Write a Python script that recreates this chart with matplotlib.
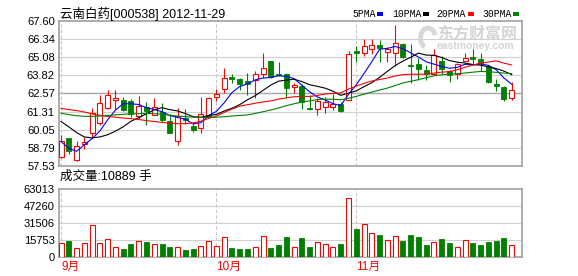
import numpy as np
import matplotlib.pyplot as plt
from matplotlib.patches import Rectangle, Arc

plt.rcParams['font.family'] = ['Liberation Sans', 'Noto Sans CJK SC', 'DejaVu Sans']

# daily candles, 2012-09-03 .. 2012-11-29
opens = [58.14, 59.48, 57.97, 59.04, 59.81, 60.51, 61.56, 62.09, 62.14, 62.02,
         60.97, 61.62, 61.09, 61.28, 60.65, 59.29, 60.88, 60.34, 60.18, 61.00,
         62.32, 62.90, 63.74, 63.55, 63.44, 63.48, 63.90, 64.79, 63.95, 63.95,
         63.02, 63.09, 61.58, 61.46, 61.63, 61.63, 61.84, 62.14, 65.55, 65.39,
         65.67, 65.90, 65.44, 65.35, 66.02, 64.55, 64.58, 64.23, 63.93, 64.84,
         64.12, 63.93, 64.81, 65.09, 64.93, 64.42, 63.25, 63.02, 62.25]
closes = [59.25, 58.60, 58.90, 59.20, 61.21, 61.90, 62.48, 62.26, 61.44, 61.16,
          61.67, 61.35, 61.65, 60.69, 59.83, 61.00, 60.69, 60.06, 61.11, 62.27,
          62.50, 63.67, 63.60, 63.20, 63.20, 63.90, 64.32, 63.74, 63.83, 62.97,
          63.16, 61.98, 61.46, 62.04, 61.95, 61.84, 61.37, 65.33, 65.39, 65.86,
          65.90, 65.72, 65.63, 66.04, 65.09, 64.47, 64.28, 63.95, 65.23, 64.30,
          63.83, 64.58, 65.05, 64.98, 64.65, 63.34, 63.07, 62.18, 62.79]
highs = [59.71, 59.50, 59.25, 59.53, 61.56, 62.48, 62.80, 62.83, 62.30, 62.20,
         62.37, 61.99, 62.25, 61.93, 61.11, 61.58, 61.51, 60.58, 62.34, 62.34,
         62.85, 64.37, 63.95, 63.67, 63.97, 64.14, 65.35, 64.79, 64.77, 64.02,
         63.32, 63.25, 62.44, 62.27, 62.30, 62.53, 62.00, 65.51, 65.86, 66.37,
         66.32, 66.25, 65.79, 67.30, 66.10, 65.97, 65.05, 64.53, 65.63, 65.16,
         64.23, 64.70, 65.35, 65.63, 65.35, 64.51, 63.58, 63.11, 63.39]
lows = [58.10, 58.37, 57.90, 58.74, 59.46, 60.40, 61.50, 61.44, 61.35, 60.96,
        60.80, 60.37, 61.05, 60.60, 59.80, 59.02, 60.46, 59.90, 59.83, 61.00,
        62.04, 62.60, 63.27, 62.83, 62.46, 62.27, 63.67, 63.67, 63.80, 62.27,
        62.62, 61.46, 61.40, 61.07, 61.21, 61.44, 61.25, 62.10, 64.74, 65.16,
        65.28, 64.74, 64.74, 64.46, 65.00, 63.30, 63.53, 63.53, 63.90, 63.93,
        63.37, 63.60, 64.80, 64.58, 64.12, 63.30, 62.72, 62.02, 62.14]
volumes = [12720, 14890, 8070, 12720, 29480, 12720, 16450, 9000, 7450, 12100,
           14580, 13960, 11790, 12100, 9310, 9000, 6520, 7450, 9930, 14580,
           9930, 18310, 8380, 7450, 7450, 9000, 19240, 8380, 11170, 18310,
           9000, 17690, 9310, 13650, 11790, 9000, 12100, 54610, 26070, 30410,
           22030, 20480, 15830, 19240, 14890, 20480, 18620, 11170, 13960, 16760,
           13030, 9000, 15830, 13030, 11480, 13960, 15200, 17690, 10889]

ma5_head = [59.23, 58.76, 58.55, 59.00]
ma10_head = [60.62, 60.25, 59.85, 59.55, 59.48, 59.55, 59.70, 59.95, 60.25]
ma20_head = [61.53, 61.45, 61.38, 61.28, 61.15, 61.05, 60.97, 60.92, 60.86, 60.82,
             60.76, 60.68, 60.62, 60.56, 60.50, 60.47, 60.47, 60.52, 60.64]
ma30_head = [61.20, 61.10, 61.02, 60.98, 60.98, 61.00, 61.04, 61.08, 61.12, 61.15,
             61.17, 61.18, 61.16, 61.12, 61.06, 61.00, 60.96, 60.92, 60.90, 60.90,
             60.92, 60.95, 61.00, 61.04, 61.08, 61.18, 61.30, 61.42, 61.56]

price_ticks = [57.53, 58.79, 60.05, 61.31, 62.57, 63.82, 65.08, 66.34, 67.60]
vol_ticks = [0, 15753, 31506, 47260, 63013]
month_pos = [0, 20, 38]
month_labels = ['9月', '10月', '11月']
ma_names = ['5PMA', '10PMA', '20PMA', '30PMA']
ma_colors = ['#0000ff', '#000000', '#ff0000', '#008000']

RED = '#ff0000'
GREEN = '#008000'


def moving_avg(vals, n, head):
    vals = np.asarray(vals)
    out = list(head)
    for i in range(len(head), len(vals)):
        out.append(vals[i - n + 1:i + 1].mean())
    return np.array(out)


mas = [moving_avg(closes, 5, ma5_head), moving_avg(closes, 10, ma10_head),
       moving_avg(closes, 20, ma20_head), moving_avg(closes, 30, ma30_head)]

W, H = 578, 276
fig = plt.figure(figsize=(W / 100, H / 100), dpi=100)
ax = fig.add_axes([59 / W, 1 - 166 / H, 463 / W, 145 / H])
axv = fig.add_axes([59 / W, 1 - 257 / H, 463 / W, 67.7 / H])

x = np.arange(len(closes))
bw = 0.64

for i in x:
    o, c, h, l = opens[i], closes[i], highs[i], lows[i]
    if c >= o:
        ax.vlines(i, max(o, c), h, color=RED, lw=0.8, zorder=2)
        ax.vlines(i, l, min(o, c), color=RED, lw=0.8, zorder=2)
        ax.add_patch(Rectangle((i - bw / 2, o), bw, max(c - o, 0.02), facecolor='white',
                               edgecolor=RED, lw=0.8, zorder=3))
        axv.add_patch(Rectangle((i - bw / 2, 0), bw, volumes[i], facecolor='white',
                                edgecolor=RED, lw=0.8, zorder=3))
    else:
        ax.vlines(i, l, h, color=GREEN, lw=0.8, zorder=2)
        ax.add_patch(Rectangle((i - bw / 2, c), bw, max(o - c, 0.03), facecolor=GREEN,
                               edgecolor=GREEN, lw=0.6, zorder=3))
        axv.add_patch(Rectangle((i - bw / 2, 0), bw, volumes[i], facecolor=GREEN,
                                edgecolor=GREEN, lw=0.6, zorder=3))

for m, col in zip(mas, ma_colors):
    ax.plot(x, m, color=col, lw=0.8, zorder=4)

for a, ticks, lim in [(ax, price_ticks, (57.53, 67.60)), (axv, vol_ticks, (0, 63013))]:
    a.set_xlim(-0.26, 59.33)
    a.set_ylim(*lim)
    a.set_yticks(ticks)
    a.set_xticks([])
    for t in ticks[1:-1]:
        a.axhline(t, color='#d0d0d0', lw=0.8, zorder=0)
    for p in month_pos:
        a.axvline(p, color='#c8c8c8', lw=0.8, ls=(0, (3, 2)), zorder=1)
    for s in a.spines.values():
        s.set_color('#a0a0a0')
        s.set_linewidth(1.2)
    a.tick_params(axis='y', length=0, pad=3, labelsize=8, labelcolor='black')

ax.axhline(62.57, color='#a8a8a8', lw=1.0, zorder=0)
ax.set_yticklabels(['%.2f' % t for t in price_ticks])
axv.set_yticklabels([str(t) for t in vol_ticks])


def fx(px):
    return px / W


def fy(py):
    return 1 - py / H


fig.text(fx(60), fy(14), '云南白药[000538] 2012-11-29', fontsize=9, va='center', ha='left')
fig.text(fx(60), fy(177), '成交量:10889 手', fontsize=9, va='center', ha='left')

leg_x = [352, 392, 436, 482]
bar_x = [377, 423, 468, 513]
for name, col, lx, bx in zip(ma_names, ma_colors, leg_x, bar_x):
    fig.text(fx(lx), fy(14), name, fontsize=7, family='Liberation Mono', va='center', ha='left')
    fig.patches.append(Rectangle((fx(bx), fy(15.5)), 6 / W, 3 / H, facecolor=col,
                                 edgecolor='none', transform=fig.transFigure, figure=fig))

for p, lab in zip(month_pos, month_labels):
    xp = 59 + (p + 0.26) * 463 / 59.59
    fig.text(fx(xp), fy(267), lab, fontsize=8.5, color=RED, va='center', ha='left')

# watermark
fig.patches.append(Arc((fx(428), fy(38)), 15 / W, 20 / H, theta1=40, theta2=260, lw=3.5,
                       color='#d8d8d8', transform=fig.transFigure, figure=fig))
fig.text(fx(437), fy(34), '东方财富网', fontsize=11.5, color='#d4d4d4', weight='bold',
         va='center', ha='left', family=['Noto Sans CJK SC'])
fig.text(fx(437), fy(46), 'eastmoney.com', fontsize=7.5, color='#d4d4d4', weight='bold',
         va='center', ha='left')

fig.savefig('out.png', dpi=100)
